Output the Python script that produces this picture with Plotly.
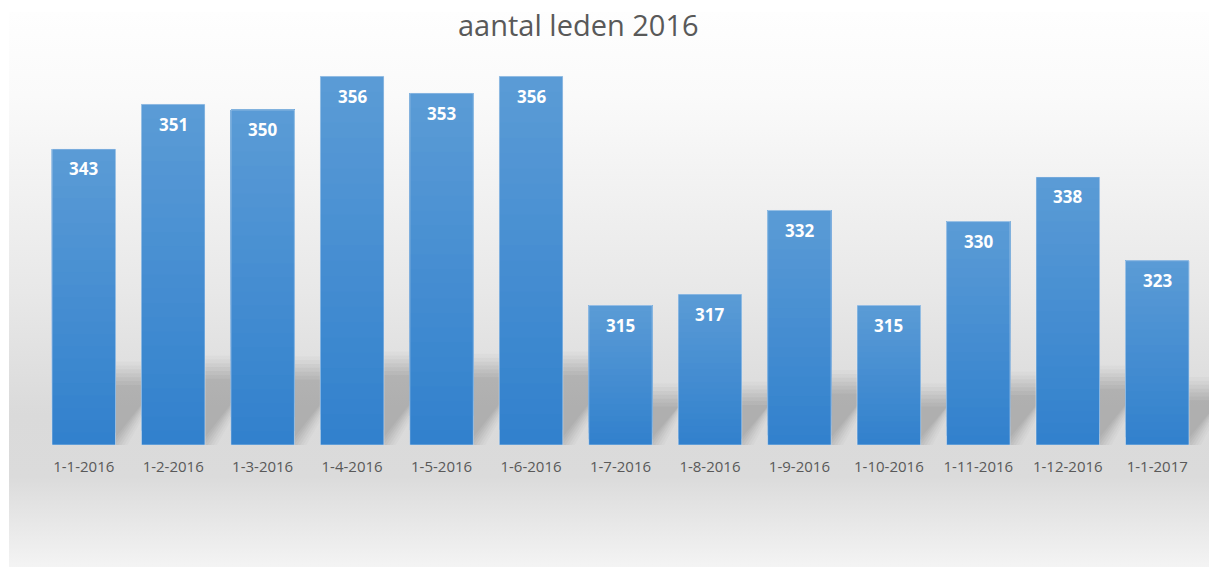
import base64
import plotly.graph_objects as go

# ---- data ----
categories = ["1-1-2016", "1-2-2016", "1-3-2016", "1-4-2016", "1-5-2016", "1-6-2016",
              "1-7-2016", "1-8-2016", "1-9-2016", "1-10-2016", "1-11-2016", "1-12-2016",
              "1-1-2017"]
members = [343, 351, 350, 356, 353, 356, 315, 317, 332, 315, 330, 338, 323]
title_text = "aantal leden 2016"

# ---- geometry / style ----
W, H = 1209, 567
ML, MR, MT, MB = 39, 0, 54, 122
Y0, Y1 = 290, 360
PW, PH = W - ML - MR, H - MT - MB
CAT_PX = 89.46                      # pixel width of one category slot
XMAX = -0.5 + PW / CAT_PX           # extra room on the right for the last shadow
px_per_y = PH / (Y1 - Y0)
px_per_x = CAT_PX
BARGAP = 0.29
half_w = (1 - BARGAP) / 2

FONT = "Open Sans"
TXT = "#595959"
bottom_rgb = (50, 129, 205)
top_rgb = (92, 156, 214)

xs = list(range(len(categories)))
fig = go.Figure()

# gradient bars: stacked opaque slices drawn bottom to top
N = 24
for j in range(N):
    f = j / N
    c = tuple(round(bottom_rgb[k] + (top_rgb[k] - bottom_rgb[k]) * f) for k in range(3))
    bases = [Y0 + (v - Y0) * f for v in members]
    heights = [v - b for v, b in zip(members, bases)]
    fig.add_trace(go.Bar(x=xs, y=heights, base=bases, width=1 - BARGAP,
                         marker=dict(color="rgb(%d,%d,%d)" % c, line=dict(width=0)),
                         hoverinfo="skip", showlegend=False))

# invisible full bar for hover
fig.add_trace(go.Bar(x=xs, y=[v - Y0 for v in members], base=[Y0] * len(members),
                     width=1 - BARGAP, marker=dict(color="rgba(0,0,0,0)"),
                     customdata=members, hovertemplate="%{customdata}<extra></extra>",
                     showlegend=False))

# value labels
for x, v in zip(xs, members):
    fig.add_annotation(x=x, y=v, text=str(v), showarrow=False, yanchor="middle",
                       yshift=-20, font=dict(family=FONT, size=17, color="white", weight="bold"))

# title
fig.add_annotation(x=(578 - ML) / PW, y=(H - MB - 25) / PH, xref="paper", yref="paper",
                   text=title_text, showarrow=False, xanchor="center", yanchor="middle",
                   font=dict(family=FONT, size=29, color=TXT))

# soft perspective shadows behind bars
shapes = []
layers = [(12, 0.02), (9, 0.025), (6, 0.03), (3, 0.033), (0, 0.033), (-3, 0.03), (-6, 0.03)]
for x, v in zip(xs, members):
    hpx = (v - Y0) * px_per_y
    sh_px = 27 + 0.138 * hpx
    dx_px = 0.7 * sh_px
    for grow, op in layers:
        gx = grow / px_per_x
        top = Y0 + (sh_px + grow * 1.3) / px_per_y
        dx = dx_px / px_per_x
        xl, xr = x - half_w, x + half_w + gx
        path = (f"M {xl},{Y0} L {xr},{Y0} L {xr + dx},{top} "
                f"L {xl + dx},{top} Z")
        shapes.append(dict(type="path", path=path, xref="x", yref="y",
                           fillcolor=f"rgba(0,0,0,{op})", line=dict(width=0), layer="below"))

# chart background gradient (Excel style)
svg = ('<svg xmlns="http://www.w3.org/2000/svg" width="1240" height="560" preserveAspectRatio="none">'
       '<defs><linearGradient id="g" x1="0" y1="0" x2="0" y2="1">'
       '<stop offset="0" stop-color="#fefefe"/>'
       '<stop offset="0.15" stop-color="#fafafa"/>'
       '<stop offset="0.5" stop-color="#e8e8e8"/>'
       '<stop offset="0.72" stop-color="#dadada"/>'
       '<stop offset="0.83" stop-color="#dbdbdb"/>'
       '<stop offset="1" stop-color="#f5f5f5"/>'
       '</linearGradient></defs><rect width="1240" height="560" fill="url(#g)"/></svg>')
uri = "data:image/svg+xml;base64," + base64.b64encode(svg.encode()).decode()
bg_left, bg_top = 9, 12
fig.add_layout_image(dict(source=uri, xref="paper", yref="paper",
                          x=(bg_left - ML) / PW, y=(H - MB - bg_top) / PH,
                          sizex=(W + 30 - bg_left) / PW, sizey=(H + 5 - bg_top) / PH,
                          xanchor="left", yanchor="top", sizing="stretch", layer="below"))

fig.update_layout(
    width=W, height=H,
    margin=dict(l=ML, r=MR, t=MT, b=MB, autoexpand=False),
    paper_bgcolor="white", plot_bgcolor="rgba(0,0,0,0)",
    barmode="overlay", bargap=BARGAP,
    shapes=shapes,
    xaxis=dict(tickmode="array", tickvals=xs, ticktext=categories, range=[-0.5, XMAX],
               showgrid=False, zeroline=False, showline=False,
               ticks="outside", ticklen=8, tickcolor="rgba(0,0,0,0)",
               tickfont=dict(family=FONT, size=15, color=TXT), fixedrange=True),
    yaxis=dict(range=[Y0, Y1], visible=False, fixedrange=True),
    showlegend=False,
)

fig.write_html("out.html", config={"displayModeBar": False},
               post_script="document.body.style.margin='0';document.body.style.overflow='hidden';")
